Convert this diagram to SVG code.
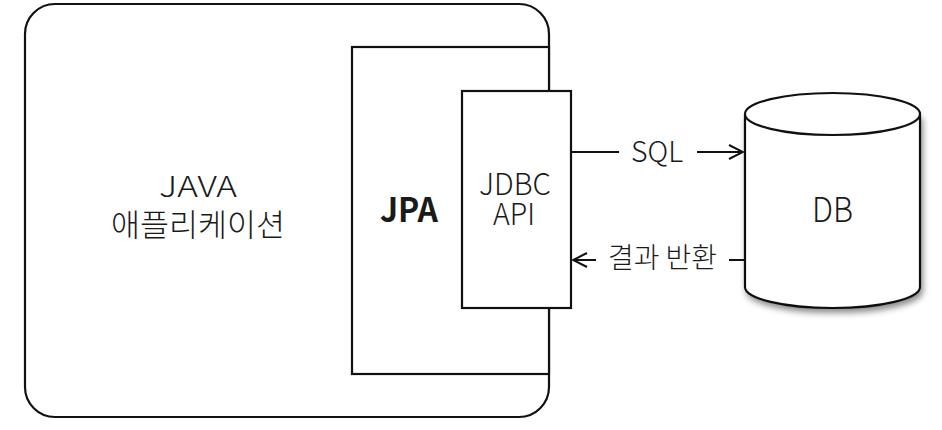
<svg xmlns="http://www.w3.org/2000/svg" width="942" height="430" viewBox="0 0 942 430">
<style>
.box{fill:#fff;stroke:#111;stroke-width:2.2}
.ln{fill:none;stroke:#111;stroke-width:2}
.t{font-family:"Noto Sans CJK KR","Liberation Sans",sans-serif;font-weight:300;fill:#1a1a1a;text-anchor:middle}
</style>
<defs>
<marker id="chev" viewBox="0 0 16 16" refX="15" refY="8" markerWidth="16" markerHeight="16" markerUnits="userSpaceOnUse" orient="auto">
<path d="M1,1 L15,8 L1,15" fill="none" stroke="#111" stroke-width="2"/>
</marker>
<filter id="sh" x="-20%" y="-20%" width="140%" height="140%">
<feDropShadow dx="2" dy="4" stdDeviation="3" flood-color="#000" flood-opacity="0.45"/>
</filter>
</defs>
<g id="java-app">
<rect class="box" x="25" y="4" width="524" height="413" rx="30"/>
<text class="t" x="198" y="197" font-size="29" textLength="78" lengthAdjust="spacingAndGlyphs">JAVA</text>
<text class="t" x="198" y="236" font-size="31" textLength="174" lengthAdjust="spacingAndGlyphs">애플리케이션</text>
</g>
<g id="jpa">
<rect class="box" x="352" y="47" width="197" height="327"/>
<text class="t" x="409" y="222" font-size="33" textLength="58" lengthAdjust="spacingAndGlyphs" style="font-weight:700">JPA</text>
</g>
<g id="jdbc">
<rect class="box" x="462" y="91" width="109" height="217"/>
<text class="t" x="515" y="195" font-size="30" textLength="72" lengthAdjust="spacingAndGlyphs">JDBC</text>
<text class="t" x="514" y="225" font-size="30" textLength="42" lengthAdjust="spacingAndGlyphs">API</text>
</g>
<g id="db">
<path d="M745,114 L745,287 A87.5,21 0 0 0 920,287 L920,114" fill="#fff" stroke="#111" stroke-width="2.2" filter="url(#sh)"/>
<ellipse cx="832.5" cy="114" rx="87.5" ry="21" fill="#fff" stroke="#111" stroke-width="2.2"/>
<text class="t" x="832.5" y="222" font-size="34" textLength="41" lengthAdjust="spacingAndGlyphs">DB</text>
</g>
<g id="connectors">
<line class="ln" x1="571" y1="152" x2="743" y2="152" marker-end="url(#chev)"/>
<rect x="619" y="136" width="78" height="32" fill="#fff"/>
<text class="t" x="657" y="162" font-size="29" textLength="52" lengthAdjust="spacingAndGlyphs">SQL</text>
<line class="ln" x1="745" y1="260" x2="573" y2="260" marker-end="url(#chev)"/>
<rect x="596" y="242" width="133" height="34" fill="#fff"/>
<text class="t" x="662.5" y="268" font-size="28" textLength="109" lengthAdjust="spacingAndGlyphs">결과 반환</text>
</g>
</svg>
